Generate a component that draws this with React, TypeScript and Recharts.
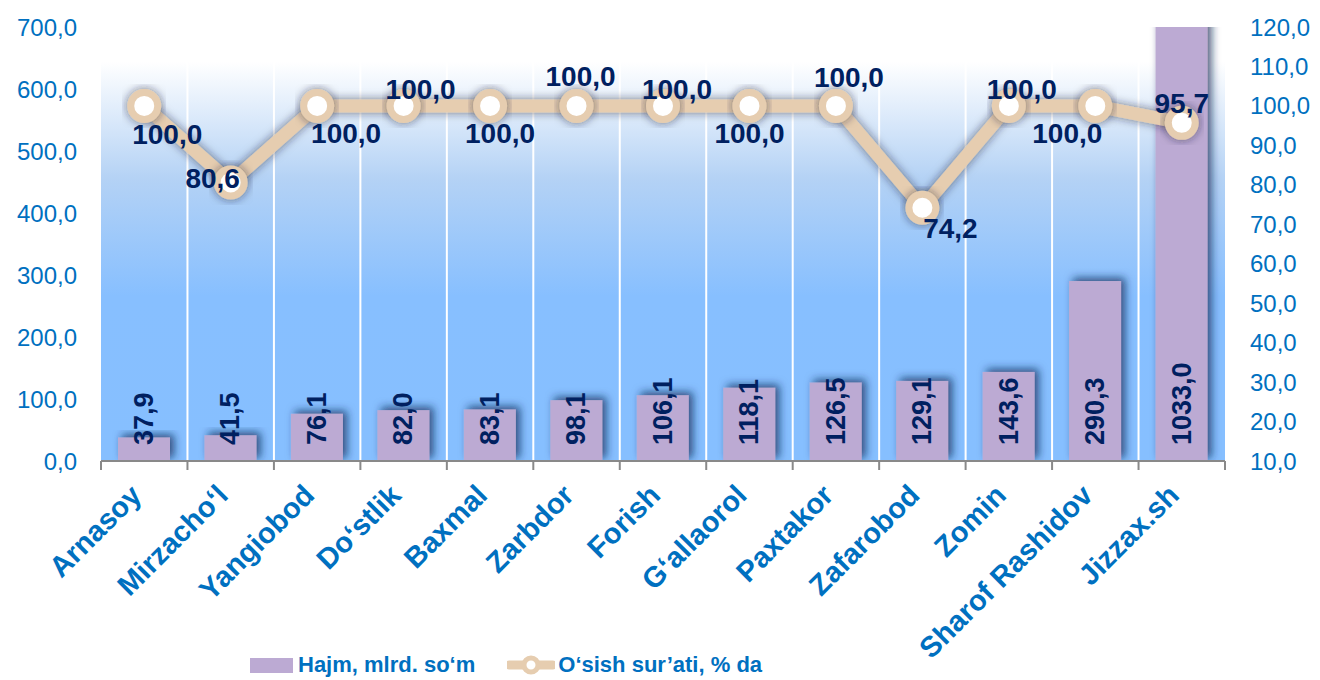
import React from "react";
import {
  Bar,
  CartesianGrid,
  ComposedChart,
  LabelList,
  Line,
  XAxis,
  YAxis,
} from "recharts";

const categories = [
  "Arnasoy",
  "Mirzacho‘l",
  "Yangiobod",
  "Do‘stlik",
  "Baxmal",
  "Zarbdor",
  "Forish",
  "G‘allaorol",
  "Paxtakor",
  "Zafarobod",
  "Zomin",
  "Sharof Rashidov",
  "Jizzax.sh",
];
const volume = [37.9, 41.5, 76.1, 82.0, 83.1, 98.1, 106.1, 118.1, 126.5, 129.1, 143.6, 290.3, 1033.0];
const growth = [100.0, 80.6, 100.0, 100.0, 100.0, 100.0, 100.0, 100.0, 100.0, 74.2, 100.0, 100.0, 95.7];
const leftTicks = [0, 100, 200, 300, 400, 500, 600, 700];
const rightTicks = [10, 20, 30, 40, 50, 60, 70, 80, 90, 100, 110, 120];

// where each growth label sits relative to its point
const growthLabelOffsets = [
  [23, 29], [-18, -4], [29, 28], [17, -16], [10, 28], [4, -29], [14, -16],
  [0, 28], [13, -28], [28, 21], [13, -16], [-28, 28], [0, -19],
];

const data = categories.map((name, i) => ({ name, volume: volume[i], growth: growth[i] }));

const W = 1320;
const H = 680;
const LEFT_W = 101;
const RIGHT_W = 95;
const PLOT_W = W - LEFT_W - RIGHT_W;
const HALF_BAND = PLOT_W / categories.length / 2;

const FONT = "'Liberation Sans', Arial, sans-serif";
const AXIS_BLUE = "#0070c0";
const NAVY = "#002060";
const BAR = "#bcaad3";
const TAN = "#e6cdb0";

const fmt = (v: number) => v.toFixed(1).replace(".", ",");

function CategoryTick(props: any) {
  const { x, y, payload, index } = props;
  const last = index === categories.length - 1;
  const tx = x - 1;
  const ty = y + 28;
  return (
    <g>
      <line x1={x - HALF_BAND} y1={y - 8} x2={x - HALF_BAND} y2={y + 1} stroke="#898989" strokeWidth={2} />
      {last && (
        <line x1={x + HALF_BAND} y1={y - 8} x2={x + HALF_BAND} y2={y + 1} stroke="#898989" strokeWidth={2} />
      )}
      <text
        x={tx}
        y={ty}
        transform={`rotate(-45 ${tx} ${ty})`}
        textAnchor="end"
        fill={AXIS_BLUE}
        fontFamily={FONT}
        fontWeight="bold"
        fontSize={29}
      >
        {payload.value}
      </text>
    </g>
  );
}

function BarShape(props: any) {
  const { x, y, width, height } = props;
  return <rect x={x} y={y} width={width} height={height} fill={BAR} filter="url(#barShadow)" />;
}

function BarValueLabel(props: any) {
  const { x, y, width, height, value } = props;
  const cx = x + width / 2;
  const by = y + height - 16;
  return (
    <text
      x={cx}
      y={by}
      transform={`rotate(-90 ${cx} ${by})`}
      textAnchor="start"
      dominantBaseline="central"
      fill={NAVY}
      fontFamily={FONT}
      fontWeight="bold"
      fontSize={27}
    >
      {fmt(value)}
    </text>
  );
}

function GrowthDot(props: any) {
  const { cx, cy, index } = props;
  return (
    <circle key={index} cx={cx} cy={cy} r={13.5} fill="#fff" stroke={TAN} strokeWidth={7} filter="url(#lineShadow)" />
  );
}

function GrowthLabel(props: any) {
  const { x, y, value, index } = props;
  const [dx, dy] = growthLabelOffsets[index];
  return (
    <text
      x={x + dx}
      y={y + dy}
      textAnchor="middle"
      dominantBaseline="central"
      fill={NAVY}
      fontFamily={FONT}
      fontWeight="bold"
      fontSize={28}
    >
      {fmt(value)}
    </text>
  );
}

export default function App() {
  return (
    <div style={{ position: "absolute", left: 0, top: 0, width: W, height: H, background: "#fff" }}>
      <ComposedChart
        width={W}
        height={H}
        data={data}
        margin={{ top: 27, right: 0, bottom: 0, left: 0 }}
        barSize={52}
      >
        <defs>
          <linearGradient id="plotBg" x1="0" y1="0" x2="0" y2="1">
            <stop offset="0%" stopColor="#ffffff" />
            <stop offset="8%" stopColor="#ffffff" />
            <stop offset="35%" stopColor="#b4d2f5" />
            <stop offset="62%" stopColor="#87bfff" />
            <stop offset="100%" stopColor="#86bfff" />
          </linearGradient>
          <filter id="barShadow" x="-30%" y="-30%" width="160%" height="160%">
            <feDropShadow dx={4} dy={-3} stdDeviation={4} floodColor="#0b2a55" floodOpacity={0.75} />
          </filter>
          <filter id="lineShadow" x="-30%" y="-30%" width="160%" height="160%">
            <feDropShadow dx={0} dy={0} stdDeviation={5} floodColor="#1a2030" floodOpacity={0.6} />
          </filter>
        </defs>
        <CartesianGrid
          yAxisId="left"
          horizontal={false}
          stroke="#ffffff"
          strokeWidth={2}
          fill="url(#plotBg)"
          fillOpacity={1}
          verticalCoordinatesGenerator={({ offset }: any) =>
            categories.slice(1).map((_, i) => offset.left + ((i + 1) * offset.width) / categories.length)
          }
        />
        <XAxis
          dataKey="name"
          interval={0}
          height={H - 461}
          tick={<CategoryTick />}
          tickLine={false}
          axisLine={{ stroke: "#898989", strokeWidth: 2 }}
        />
        <YAxis
          yAxisId="left"
          width={LEFT_W}
          domain={[0, 700]}
          ticks={leftTicks}
          allowDataOverflow
          tickFormatter={fmt}
          tickLine={false}
          axisLine={false}
          tickSize={0}
          tickMargin={24}
          tick={{ fill: AXIS_BLUE, fontSize: 24, fontFamily: FONT }}
        />
        <YAxis
          yAxisId="right"
          orientation="right"
          width={RIGHT_W}
          domain={[10, 120]}
          ticks={rightTicks}
          tickFormatter={fmt}
          tickLine={false}
          axisLine={false}
          tickSize={0}
          tickMargin={25}
          tick={{ fill: AXIS_BLUE, fontSize: 24, fontFamily: FONT, textAnchor: "start" }}
        />
        <Bar yAxisId="left" dataKey="volume" shape={<BarShape />} isAnimationActive={false}>
          <LabelList dataKey="volume" content={<BarValueLabel />} />
        </Bar>
        <Line
          yAxisId="right"
          dataKey="growth"
          type="linear"
          stroke={TAN}
          strokeWidth={13}
          filter="url(#lineShadow)"
          dot={<GrowthDot />}
          activeDot={false}
          isAnimationActive={false}
        >
          <LabelList dataKey="growth" content={<GrowthLabel />} />
        </Line>
      </ComposedChart>
      <div
        style={{
          position: "absolute",
          top: 652,
          left: 250,
          display: "flex",
          alignItems: "center",
          fontFamily: FONT,
          fontWeight: "bold",
          fontSize: 22,
          color: AXIS_BLUE,
          whiteSpace: "nowrap",
        }}
      >
        <span style={{ display: "inline-block", width: 43, height: 15, background: BAR, marginRight: 5 }} />
        <span>Hajm, mlrd. so‘m</span>
        <svg width={48} height={24} style={{ marginLeft: 32, marginRight: 3 }}>
          <line x1={2} y1={12} x2={46} y2={12} stroke={TAN} strokeWidth={9} strokeLinecap="round" />
          <circle cx={24} cy={12} r={7} fill="#fff" stroke={TAN} strokeWidth={5} />
        </svg>
        <span>O‘sish sur’ati, % da</span>
      </div>
    </div>
  );
}
